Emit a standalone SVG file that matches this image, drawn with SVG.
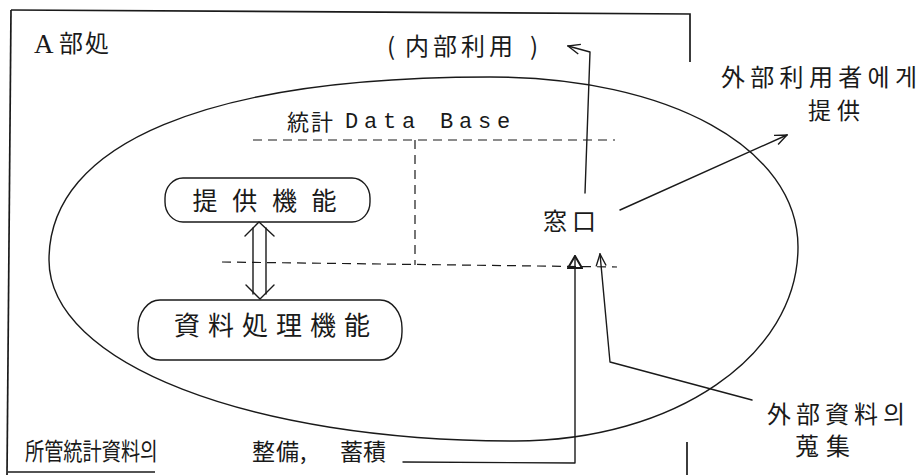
<svg xmlns="http://www.w3.org/2000/svg" width="921" height="475" viewBox="0 0 921 475">
<style>
  .ln{fill:none;stroke:#1a1a1a;stroke-width:1.4;stroke-linecap:round;stroke-linejoin:round}
  .fr{fill:none;stroke:#1a1a1a;stroke-width:1.7}
  .dash{fill:none;stroke:#1a1a1a;stroke-width:1.2;stroke-dasharray:9 6}
  .box{fill:none;stroke:#1a1a1a;stroke-width:1.4}
  .cjk{font-family:"Noto Sans CJK KR","Noto Sans CJK JP",sans-serif;fill:#1a1a1a}
  .mono{font-family:"Liberation Mono",monospace;fill:#1a1a1a}
  .serif{font-family:"Liberation Serif",serif;fill:#1a1a1a}
</style>
<defs>
  <marker id="open" viewBox="0 0 14 12" refX="13" refY="6" markerWidth="14" markerHeight="12" markerUnits="userSpaceOnUse" orient="auto">
    <path d="M1,1 L13,6 L1,11" fill="none" stroke="#1a1a1a" stroke-width="1.4"/>
  </marker>
  <marker id="tri" viewBox="0 0 14 16" refX="13" refY="8" markerWidth="14" markerHeight="16" markerUnits="userSpaceOnUse" orient="auto">
    <path d="M1,1 L13,8 L1,15 Z" fill="none" stroke="#1a1a1a" stroke-width="2"/>
  </marker>
</defs>
<rect width="921" height="475" fill="#ffffff"/>

<g id="frame">
  <path class="fr" d="M11,10 L7,475"/>
  <path class="fr" d="M11,10 L690,14 L690,62"/>
  <path class="fr" d="M687,442 L687,475"/>
  <path class="fr" d="M8,472 L155,472"/>
  <text class="serif" x="34" y="53" font-size="27">A</text>
  <text class="cjk" x="59" y="52" font-size="24" letter-spacing="2">部処</text>
</g>

<g id="ellipse">
  <path class="ln" stroke-width="1.6" d="M49,260 C49,143 208,77 490,77 C669,77 798,148 798,247 C798,356 674,441 515,441 C249,441 49,363 49,260 Z"/>
</g>

<g id="database">
  <text class="cjk" x="287" y="130" font-size="22" letter-spacing="2">統計</text>
  <text class="mono" x="345" y="128" font-size="22" letter-spacing="5.8">Data Base</text>
</g>

<g id="teikyo">
  <rect class="box" x="165" y="178" width="205" height="44" rx="18" ry="20"/>
  <text class="cjk" x="192.5" y="210" font-size="25" letter-spacing="14.7">提供機能</text>
</g>

<g id="shiryo">
  <rect class="box" x="138" y="300" width="264" height="60" rx="22" ry="28"/>
  <text class="cjk" x="174" y="335" font-size="26" letter-spacing="8">資料処理機能</text>
</g>

<g id="madoguchi">
  <text class="cjk" x="543" y="230" font-size="24" letter-spacing="5">窓口</text>
</g>

<g id="naibu">
  <text class="cjk" x="387" y="55" font-size="24"><tspan>(</tspan><tspan x="405" letter-spacing="4">内部利用</tspan><tspan x="530">)</tspan></text>
</g>

<g id="gaibu-riyo">
  <text class="cjk" x="721" y="86" font-size="24" textLength="196" lengthAdjust="spacing">外部利用者에게</text>
  <text class="cjk" x="808" y="119" font-size="23" letter-spacing="6">提供</text>
</g>

<g id="gaibu-shiryo">
  <text class="cjk" x="767" y="423" font-size="24" textLength="138" lengthAdjust="spacing">外部資料의</text>
  <text class="cjk" x="795" y="455" font-size="24" letter-spacing="7">蒐集</text>
</g>

<g id="shokan">
  <text class="cjk" transform="translate(25,460) scale(0.8,1)" x="0" y="0" font-size="24">所管統計資料의</text>
  <text class="cjk" x="252" y="460" font-size="23" letter-spacing="1">整備,</text>
  <text class="cjk" x="340" y="460" font-size="23">蓄積</text>
</g>

<g id="connectors">
  <path class="dash" d="M253,140 L615,140"/>
  <path class="dash" stroke-dasharray="6 5" d="M415,140 L415,265"/>
  <path class="dash" stroke-dasharray="8 5" d="M222,262 L617,267"/>
  <path class="ln" d="M253,228 L253,294 M266,228 L266,294"/>
  <path class="ln" d="M245,236 L259,222 L274,236"/>
  <path class="ln" d="M246,285 L260,299 L274,285"/>
  <path class="ln" d="M585,193 L590,52 L568,46" marker-end="url(#open)"/>
  <path class="ln" d="M620,210 L787,135" marker-end="url(#open)"/>
  <path class="ln" stroke-width="1.6" d="M403,462 L575,463 L575,256" marker-end="url(#tri)"/>
  <path class="ln" d="M752,400 L610,362 L600,254" marker-end="url(#open)"/>
</g>
</svg>
